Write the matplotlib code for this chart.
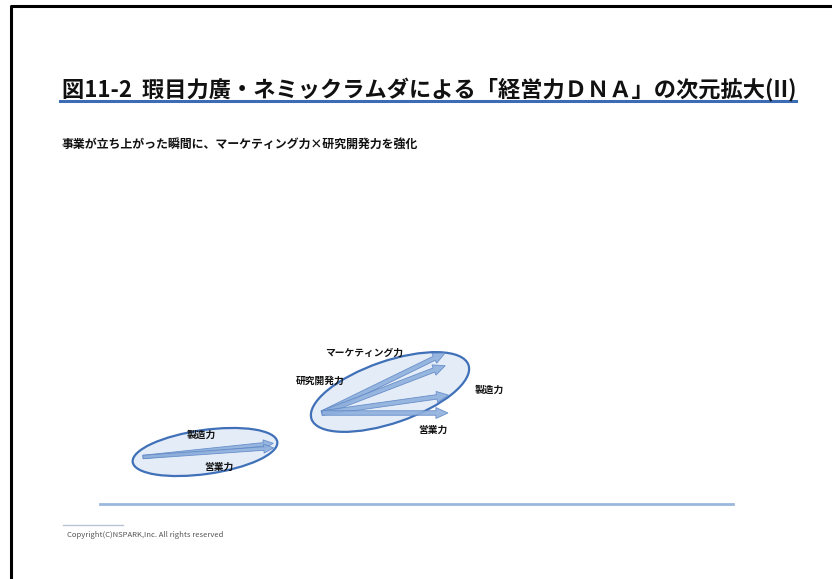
import matplotlib
matplotlib.use('Agg')
from matplotlib import pyplot as plt
from matplotlib.patches import Ellipse, FancyArrow
import math

plt.rcParams['font.family'] = ['Noto Sans CJK JP', 'DejaVu Sans']

title = '図11-2  瑕目力廣・ネミックラムダによる「経営力ＤＮＡ」の次元拡大(II)'
subtitle = '事業が立ち上がった瞬間に、マーケティング力×研究開発力を強化'
copyright_text = 'Copyright(C)NSPARK,Inc. All rights reserved'

# stage 1: two capabilities, stage 2: four capabilities
stage1_labels = ['製造力', '営業力']
stage1_angles = [6, 4]          # degrees above horizontal
stage1_lengths = [131, 131]
stage2_labels = ['マーケティング力', '研究開発力', '製造力', '営業力']
stage2_angles = [26, 21, 8, 0]
stage2_lengths = [137, 132, 128, 126]

fig = plt.figure(figsize=(8.32, 5.79), dpi=100)
ax = fig.add_axes([0, 0, 1, 1])
ax.set_xlim(0, 832)
ax.set_ylim(579, 0)
ax.axis('off')

# slide frame
ax.plot([11, 11, 832], [579, 6, 6], color='k', lw=2.2, solid_capstyle='butt')

ax.text(62, 90, title, fontsize=16, fontweight='bold', va='center', ha='left', color='#111111')
ax.plot([60, 796], [101, 101], color='#3c6db4', lw=2.2)
ax.text(62, 144, subtitle, fontsize=8.6, fontweight='bold', va='center', ha='left', color='#111111')

def draw_group(cx, cy, w, h, tilt, x0, y0, angles, lengths, width, head):
    ax.add_patch(Ellipse((cx, cy), w, h, angle=-tilt, facecolor='#e4ecf8',
                         edgecolor='#3f70b8', lw=1.6, zorder=2))
    for a, L in zip(angles, lengths):
        dx = L * math.cos(math.radians(a))
        dy = -L * math.sin(math.radians(a))
        ax.add_patch(FancyArrow(x0, y0, dx, dy, width=width, head_width=head,
                                head_length=head * 1.1, length_includes_head=True,
                                facecolor='#8fb0dd', edgecolor='#5f88c6', lw=0.6,
                                alpha=0.9, zorder=3))
    return

draw_group(205, 452, 146, 44, 8, 143, 457, stage1_angles, stage1_lengths, 3.5, 9)
draw_group(390, 392, 166, 62, 19, 322, 413, stage2_angles, stage2_lengths, 4.5, 11)

lab = dict(fontsize=7, fontweight='bold', ha='center', va='center', color='#111111', zorder=4)
ax.text(201, 435, stage1_labels[0], **lab)
ax.text(219, 467, stage1_labels[1], **lab)
ax.text(364, 353, stage2_labels[0], **lab)
ax.text(320, 381, stage2_labels[1], **lab)
ax.text(489, 390, stage2_labels[2], **lab)
ax.text(433, 430, stage2_labels[3], **lab)

# baseline
ax.plot([100, 733], [504, 504], color='#9ab8de', lw=2)

ax.plot([63, 123], [525, 525], color='#b8c4d4', lw=1)
ax.text(67, 535, copyright_text, fontsize=5.5, color='#555555', va='center', ha='left')

fig.savefig('out.png', dpi=100)
